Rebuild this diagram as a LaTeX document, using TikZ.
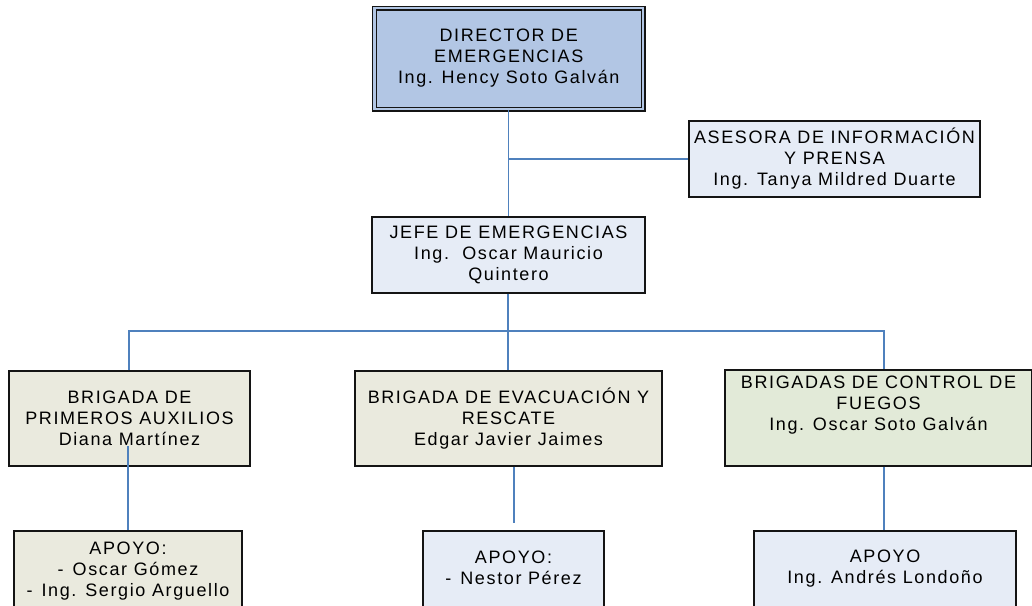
\documentclass[tikz,border=0pt]{standalone}
\usepackage{fontspec}
\setmainfont{Liberation Sans}[LetterSpace=9]
\definecolor{dirfill}{RGB}{178,198,228}
\definecolor{bluefill}{RGB}{230,236,246}
\definecolor{beigefill}{RGB}{234,234,222}
\definecolor{greenfill}{RGB}{226,234,216}
\definecolor{linec}{RGB}{79,129,189}
\definecolor{bordc}{RGB}{20,20,20}
\begin{document}
\begin{tikzpicture}[x=1pt,y=-1pt,
  box/.style={draw=bordc, line width=1.1pt, inner sep=0pt, align=center,
    text=black, font=\fontsize{18}{21}\selectfont},
  conn/.style={draw=linec, line width=1.3pt}]
\useasboundingbox (0,0) rectangle (1032,605);
\clip (0,0) rectangle (1032,605);
% boxes
\node[box, fill=dirfill, double=dirfill, double distance=2.8pt,
  minimum width=268.5pt, minimum height=101pt] (dir) at (508.75,58.5)
  {DIRECTOR DE\\EMERGENCIAS\\Ing. Hency Soto Galván};
\node[box, fill=bluefill, minimum width=291pt, minimum height=76pt] (ase) at (834.5,159)
  {ASESORA DE INFORMACIÓN\\Y PRENSA\\Ing. Tanya Mildred Duarte};
\node[box, fill=bluefill, minimum width=273pt, minimum height=76pt] (jefe) at (508.5,255)
  {JEFE DE EMERGENCIAS\\Ing.\ \ Oscar Mauricio\\Quintero};
\node[box, fill=beigefill, minimum width=241pt, minimum height=95pt] (b1) at (129.5,418.5)
  {BRIGADA DE\\PRIMEROS AUXILIOS\\Diana Martínez};
\node[box, fill=beigefill, minimum width=307pt, minimum height=95pt] (b2) at (508.5,418.5)
  {BRIGADA DE EVACUACIÓN Y\\RESCATE\\Edgar Javier Jaimes};
\node[box, fill=greenfill, minimum width=307pt, minimum height=96pt] (b3) at (878.5,418)
  {BRIGADAS DE CONTROL DE\\FUEGOS\\Ing. Oscar Soto Galván\\[8pt]~};
\node[box, fill=beigefill, minimum width=228pt, minimum height=80pt] (a1) at (128,571)
  {APOYO:\\-\hspace{9pt}Oscar Gómez\\-\hspace{9pt}Ing. Sergio Arguello};
\node[box, fill=bluefill, minimum width=181pt, minimum height=124pt] (a2) at (513.5,593)
  {APOYO:\\-\hspace{9pt}Nestor Pérez\\[30pt]~};
\node[box, fill=bluefill, minimum width=262pt, minimum height=123pt] (a3) at (885,592.5)
  {APOYO\\Ing. Andrés Londoño\\[30pt]~};
% connector points
\coordinate (ja) at (dir.south |- ase.west);
\coordinate (bL) at (129,331);
\coordinate (bR) at (884,331);
\coordinate (bM) at (508,331);
\coordinate (b1in) at (128,446);
\coordinate (a2end) at (514,523);
% connectors
\draw[conn] (dir.south) -- (dir.south |- jefe.north);
\draw[conn] (ja) -- (ase.west);
\draw[conn] (bM |- jefe.south) -- (bM |- b2.north);
\draw[conn] (bL |- b1.north) -- (bL) -- (bR) -- (bR |- b3.north);
\draw[conn] (b1in) -- (b1in |- a1.north);
\draw[conn] (a2end |- b2.south) -- (a2end);
\draw[conn] (bR |- b3.south) -- (bR |- a3.north);
\end{tikzpicture}
\end{document}
